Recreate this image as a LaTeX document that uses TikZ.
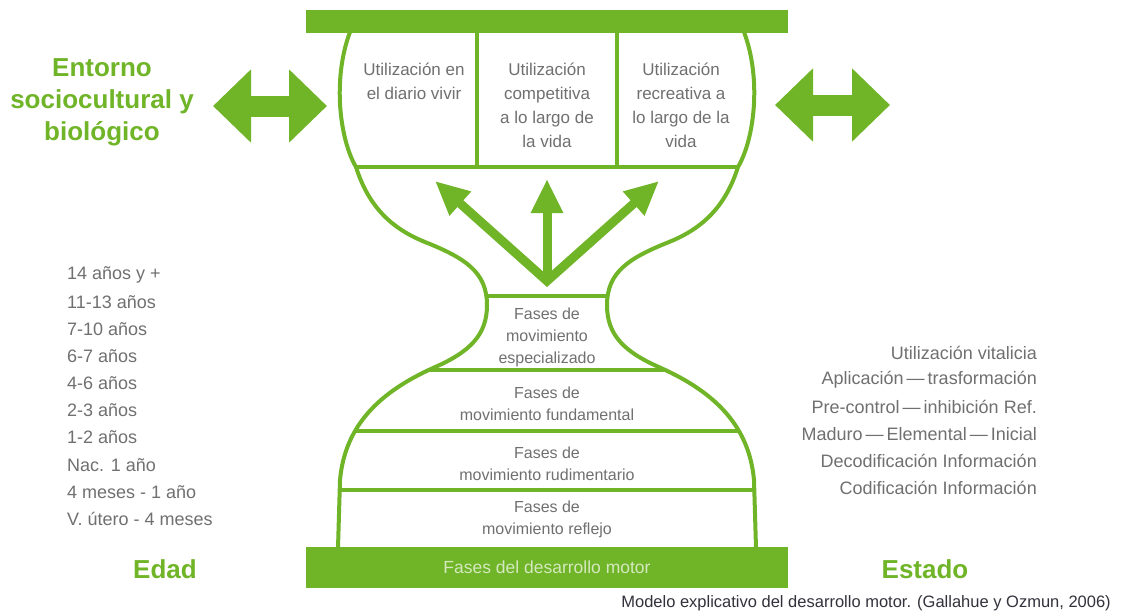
\documentclass[tikz,border=0pt]{standalone}
\usepackage{fontspec}
\setmainfont{Liberation Sans}
\usetikzlibrary{arrows.meta}

\definecolor{motorgreen}{RGB}{112,180,40}
\definecolor{labelgray}{RGB}{112,112,112}
\definecolor{captiongray}{RGB}{50,50,60}

\tikzset{
  vesselline/.style={draw=motorgreen, line width=4pt},
  uparrow/.style={draw=motorgreen, line width=9pt, miter limit=4},
  sidearrow/.style={draw=motorgreen, line width=21pt,
    {Triangle[length=38pt,width=71pt]}-{Triangle[length=38pt,width=71pt]}},
  usagebox/.style={text=labelgray, align=center, anchor=north, inner sep=0pt,
    font=\fontsize{17}{24}\selectfont},
  phase/.style={text=labelgray, align=center, inner sep=0pt,
    font=\fontsize{16}{22}\selectfont},
  bigtitle/.style={text=motorgreen, align=center, inner sep=0pt,
    font=\fontsize{26}{32}\selectfont\bfseries},
  agelist/.style={text=labelgray, anchor=west, inner sep=0pt, font=\fontsize{18}{22}\selectfont},
  statelist/.style={text=labelgray, anchor=east, inner sep=0pt, font=\fontsize{18}{22}\selectfont},
}

% left half of the hourglass outline, top to bottom
\def\leftside{(350,32) .. controls (332,80) and (340,140) .. (356,167)
  .. controls (368,205) and (390,228) .. (425,242)
  .. controls (465,258) and (487,272) .. (487,305)
  .. controls (487,335) and (470,352) .. (433,368)
  .. controls (380,392) and (345,425) .. (340,480) -- (338,548)}

% one half: cross lines clipped to the inside, divider and outline
\def\halfvessel{%
  \begin{scope}
    \clip \leftside -- (547,548) -- (547,32) -- cycle;
    \foreach \yy in {167,296,370,431,490}
      \draw[vesselline] (300,\yy) -- (548,\yy);
  \end{scope}
  \draw[vesselline] (477,32) -- (477,167);
  \draw[vesselline] \leftside;
}

\begin{document}
\begin{tikzpicture}[x=1pt,y=-1pt]
    % page frame
    \fill[white] (0,0) rectangle (1122,614);
    \useasboundingbox (0,0) rectangle (1122,614);

    % the hourglass, drawn as two mirrored halves
    \halfvessel
    \begin{scope}[shift={(1094,0)}, xscale=-1]
        \halfvessel
    \end{scope}

    % bars on top and bottom
    \node[fill=motorgreen, minimum width=482pt, minimum height=23pt, inner sep=0pt] (topbar) at (547,21.5) {};
    \node[fill=motorgreen, minimum width=482pt, minimum height=41pt, inner sep=0pt,
          text=motorgreen!30!white, font=\fontsize{17.5}{20}\selectfont] (motorbar) at (547,567.5) {Fases del desarrollo motor};

    % three ways of using the movements
    \node[usagebox] (daily) at (414,63) {Utilización en\\el diario vivir};
    \node[usagebox] (compete) at (547,63) {Utilización\\competitiva\\a lo largo de\\la vida};
    \node[usagebox] (leisure) at (681,63) {Utilización\\recreativa a\\lo largo de la\\vida};

    % arrows going up from the neck
    \coordinate (root) at (547,281);
    \coordinate (tipleft) at (435,181);
    \coordinate (tipmid) at (547,179);
    \coordinate (tipright) at (659,181);
    \draw[uparrow, {Triangle[length=34pt,width=30pt]}-{Triangle[length=34pt,width=30pt]}] (tipleft) -- (root) -- (tipright);
    \draw[uparrow, -{Triangle[length=34pt,width=30pt]}] (root) -- (tipmid);

    % phases inside the lower bowl
    \node[phase] (special) at (547,337) {Fases de\\movimiento\\especializado};
    \node[phase] (fundam) at (547,404) {Fases de\\movimiento fundamental};
    \node[phase] (rudim) at (547,464) {Fases de\\movimiento rudimentario};
    \node[phase] (reflex) at (547,519) {Fases de\\movimiento reflejo};

    % surroundings and their two-way arrows
    \node[bigtitle] (entorno) at (102,102) {Entorno\\sociocultural y\\biológico};
    \coordinate (envLa) at (213,106);
    \coordinate (envLb) at (327,106);
    \coordinate (envRa) at (775,105);
    \coordinate (envRb) at (890,105);
    \draw[sidearrow] (envLa) -- (envLb);
    \draw[sidearrow] (envRa) -- (envRb);

    % ages on the left
    \foreach \txt [count=\i] in {14 años y +, 11-13 años, 7-10 años, 6-7 años, 4-6 años,
        2-3 años, 1-2 años, Nac. 1 año, 4 meses - 1 año, V. útero - 4 meses}
      \node[agelist] (age\i) at (67,{275+27.1*(\i-1)}) {\txt};

    % states on the right
    \foreach \txt [count=\i] in {Utilización vitalicia, Aplicación\,—\,trasformación,
        Pre-control\,—\,inhibición Ref., Maduro\,—\,Elemental\,—\,Inicial,
        Decodificación Información, Codificación Información}
      \node[statelist] (state\i) at (1037,{353+27*(\i-1)}) {\txt};

    \node[bigtitle] (edad) at (165,569) {Edad};
    \node[bigtitle] (estado) at (925,569) {Estado};

    \node[anchor=east, inner sep=0pt, text=captiongray, font=\fontsize{16.5}{20}\selectfont] (caption)
      at (1111,603) {Modelo explicativo del desarrollo motor. (Gallahue y Ozmun, 2006)};
\end{tikzpicture}
\end{document}
